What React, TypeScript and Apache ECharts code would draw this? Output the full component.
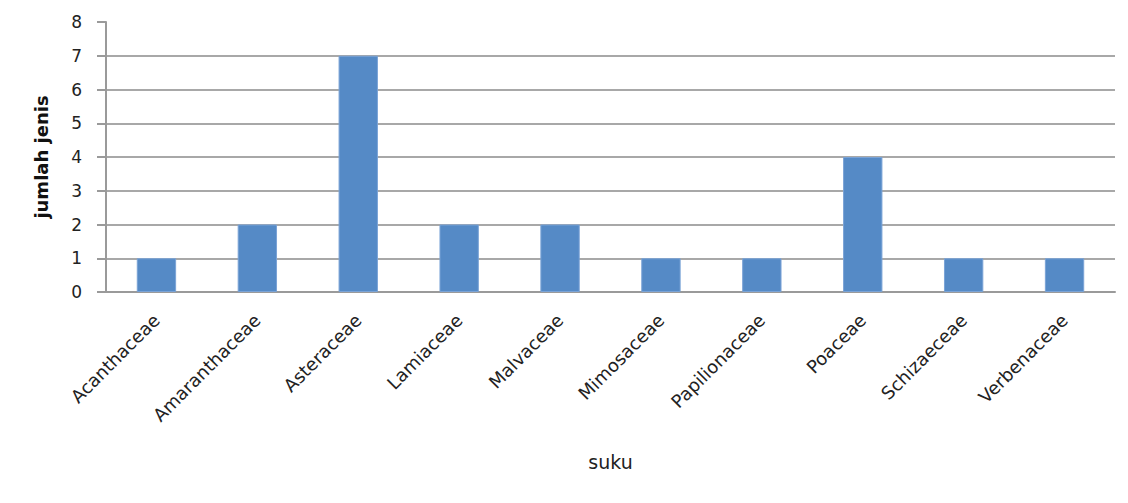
import React, { useEffect, useRef } from "react";
import * as echarts from "echarts";

const categories = [
  "Acanthaceae",
  "Amaranthaceae",
  "Asteraceae",
  "Lamiaceae",
  "Malvaceae",
  "Mimosaceae",
  "Papilionaceae",
  "Poaceae",
  "Schizaeceae",
  "Verbenaceae",
];
const values = [1, 2, 7, 2, 2, 1, 1, 4, 1, 1];
const yMin = 0;
const yMax = 8;
const yInterval = 1;

export default function App() {
  const ref = useRef<HTMLDivElement>(null);
  useEffect(() => {
    document.body.style.margin = "0";
    if (!ref.current) return;
    const chart = echarts.init(ref.current, null, { renderer: "svg" });
    chart.setOption({
      animation: false,
      backgroundColor: "#ffffff",
      grid: { left: 106, right: 13, top: 22, bottom: 211, containLabel: false },
      xAxis: {
        type: "category",
        data: categories,
        name: "suku",
        nameLocation: "middle",
        nameGap: 160,
        nameTextStyle: { fontFamily: "DejaVu Sans", fontSize: 19, color: "#222" },
        axisLine: { show: true, lineStyle: { color: "#9a9a9a", width: 2 } },
        axisTick: { show: false },
        axisLabel: {
          rotate: 45,
          margin: 25,
          interval: 0,
          fontFamily: "DejaVu Sans",
          fontSize: 18,
          color: "#222",
        },
      },
      yAxis: {
        type: "value",
        min: yMin,
        max: yMax,
        interval: yInterval,
        name: "jumlah jenis",
        nameLocation: "middle",
        nameGap: 56,
        nameTextStyle: { fontFamily: "DejaVu Sans", fontSize: 18, fontWeight: "bold", color: "#111" },
        axisLine: { show: true, lineStyle: { color: "#9a9a9a", width: 2 } },
        axisTick: { show: true, length: 9, lineStyle: { color: "#9a9a9a", width: 2 } },
        axisLabel: { margin: 24, fontFamily: "DejaVu Sans", fontSize: 17, color: "#222" },
        splitLine: { show: true, showMaxLine: false, lineStyle: { color: "#a8a8a8", width: 2 } },
      },
      series: [
        {
          type: "bar",
          data: values,
          barWidth: "39%",
          itemStyle: { color: "#558AC6", borderColor: "#7aa3d6", borderWidth: 1 },
        },
      ],
    });
    return () => chart.dispose();
  }, []);
  return <div ref={ref} style={{ width: 1128, height: 503 }} />;
}
